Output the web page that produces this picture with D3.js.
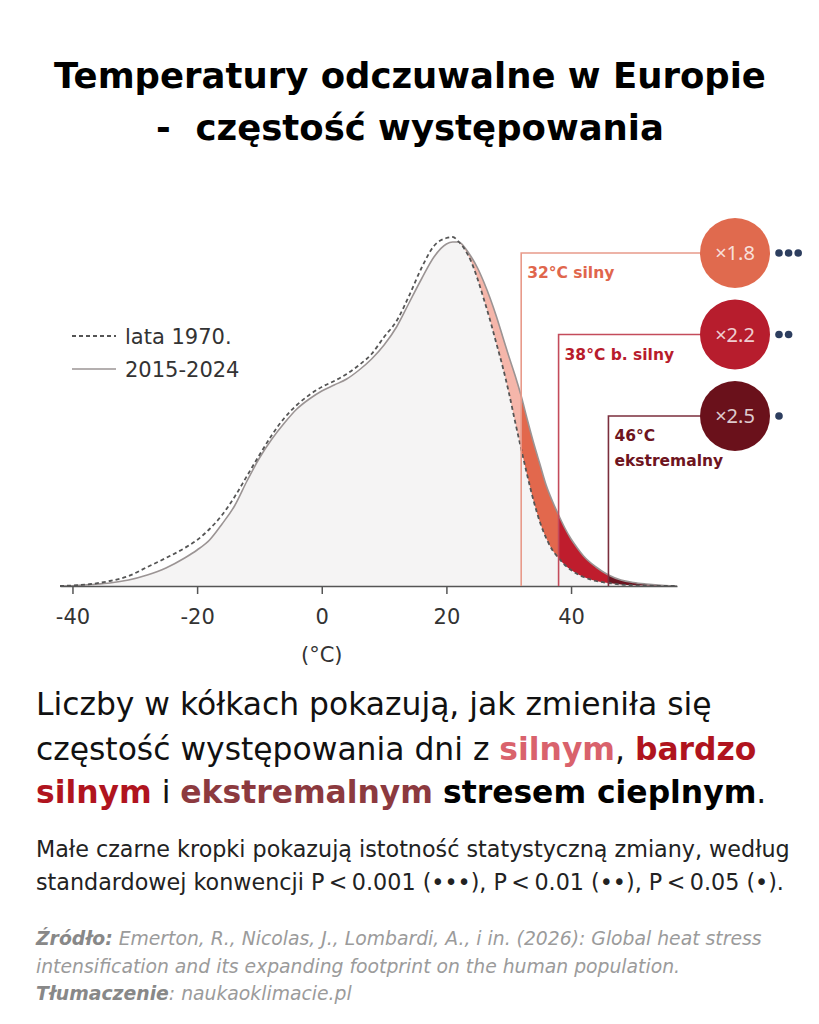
<!DOCTYPE html>
<html>
    <head>
        <meta charset="utf-8">
        <title></title>
        <script src="https://d3js.org/d3.v7.min.js"></script>
        <style>
            body { margin: 0; background: #fff; }
            text { font-family: "DejaVu Sans", sans-serif; white-space: pre; }
        </style>
    </head>

    <body>
        <div id="my_dataviz"></div>
    </body>

    <script>
        // temperature grid (°C) and relative frequency (arb. units)
        var temps = [-42, -40, -37, -34, -31, -28, -25, -22, -20, -18, -16, -14, -12, -10, -8, -6, -4, -2,
            0, 2, 4, 6, 8, 10, 12, 14, 16, 18, 20, 21, 22, 23, 24, 25, 26, 27, 28, 29, 30, 31, 32, 33, 34,
            35, 36, 37, 38, 39, 40, 41, 42, 44, 46, 48, 50, 52, 55, 57]
        var freq1970 = [0, 0.5, 2, 5, 10, 19, 28, 38, 46, 57, 71, 89, 110, 131, 151, 168, 181, 191,
            199, 205, 212, 221, 232, 249, 265, 290, 318, 340, 348, 349, 344, 336, 324, 307, 287, 266, 243, 220, 194, 165, 137, 110, 85,
            64, 48, 36, 28, 21, 16, 12, 9, 5, 3, 1.5, 0.8, 0.4, 0, 0]
        var freq2015 = [0, 0.3, 1.5, 3, 6, 11, 18, 28, 36, 46, 62, 80, 105, 128, 147, 163, 177, 187,
            195, 201, 207, 216, 227, 241, 259, 283, 307, 329, 342, 344, 344, 338, 329, 318, 304, 288, 270, 250, 230, 211, 190, 166, 143,
            122, 101, 85, 71, 58, 47, 38, 30, 19, 11, 6, 3.5, 2, 0.5, 0]

        var tickValues = [-40, -20, 0, 20, 40]
        var tickLabels = ["-40", "-20", "0", "20", "40"]
        var seriesNames = ["lata 1970.", "2015-2024"]

        var thresholds = [32, 38, 46]
        var thresholdLabels = [["32°C silny"], ["38°C b. silny"], ["46°C", "ekstremalny"]]
        var ratioLabels = ["×1.8", "×2.2", "×2.5"]
        var signifDots = [3, 2, 1]
        var bandStart = 22

        var titleLines = ["Temperatury odczuwalne w Europie", "-  częstość występowania"]
        var noteLines = ["Małe czarne kropki pokazują istotność statystyczną zmiany, według",
            "standardowej konwencji P\u2009<\u20090.001 (•••), P\u2009<\u20090.01 (••), P\u2009<\u20090.05 (•)."]

        // colours
        var bandColors = ["#f5b6aa", "#e2684d", "#bf1d2d", "#6c1420"]
        var lineColors = ["#e89a8a", "#c44b5b", "#7b2e3d"]
        var labelColors = ["#e0664c", "#b81c2c", "#6e1420"]
        var circleColors = ["#e06a4e", "#b71d2d", "#6a111b"]

        var W = 819, H = 1024

        var svg = d3.select("#my_dataviz")
        .append("svg")
        .attr("width", W)
        .attr("height", H)

        // scales
        var x = d3.scaleLinear().domain([-42, 57]).range([60, 677])
        var y = d3.scaleLinear().domain([0, 349]).range([586, 237])

        var pts = temps.map(function(t, i) { return { t: t, a: freq1970[i], b: freq2015[i] } })

        // gray area under the recent curve
        svg.append("path")
        .datum(pts)
        .attr("fill", "#f5f4f4")
        .attr("d", d3.area().curve(d3.curveMonotoneX)
            .x(function(d) { return x(d.t) })
            .y0(y(0))
            .y1(function(d) { return y(d.b) }))

        // coloured band between the two curves, split at the thresholds
        var cuts = [bandStart].concat(thresholds).concat([57])
        var defs = svg.append("defs")
        var band = d3.area().curve(d3.curveMonotoneX)
            .x(function(d) { return x(d.t) })
            .y0(function(d) { return y(d.a) })
            .y1(function(d) { return y(d.b) })

        for (var k = 0; k < cuts.length - 1; k++) {
            defs.append("clipPath").attr("id", "clip" + k)
            .append("rect")
            .attr("x", x(cuts[k]))
            .attr("width", x(cuts[k + 1]) - x(cuts[k]))
            .attr("y", 0)
            .attr("height", y(0) + 1)

            svg.append("path")
            .datum(pts)
            .attr("clip-path", "url(#clip" + k + ")")
            .attr("fill", bandColors[k])
            .attr("d", band)
        }

        // curves
        var line1970 = d3.line().curve(d3.curveMonotoneX)
            .x(function(d) { return x(d.t) })
            .y(function(d) { return y(d.a) })
        var line2015 = d3.line().curve(d3.curveMonotoneX)
            .x(function(d) { return x(d.t) })
            .y(function(d) { return y(d.b) })

        svg.append("path").datum(pts)
        .attr("fill", "none")
        .attr("stroke", "#9b9494")
        .attr("stroke-width", 1.6)
        .attr("d", line2015)

        svg.append("path").datum(pts)
        .attr("fill", "none")
        .attr("stroke", "#555")
        .attr("stroke-width", 1.8)
        .attr("stroke-dasharray", "4,3")
        .attr("d", line1970)

        // x axis
        var axis = svg.append("g")
        .attr("transform", "translate(0," + y(0) + ")")
        .call(d3.axisBottom(x)
            .tickValues(tickValues)
            .tickFormat(function(d, i) { return tickLabels[i] })
            .tickSize(8)
            .tickSizeOuter(0)
            .tickPadding(15))
        axis.select(".domain").attr("stroke", "#555").attr("stroke-width", 1.5)
        axis.selectAll(".tick line").attr("stroke", "#555").attr("stroke-width", 1.5)
        axis.selectAll(".tick text")
        .attr("fill", "#333")
        .style("font-size", "21px")
        .style("font-family", "DejaVu Sans, sans-serif")

        svg.append("text")
        .attr("x", x(0))
        .attr("y", 662)
        .attr("text-anchor", "middle")
        .attr("fill", "#333")
        .style("font-size", "21px")
        .text("(°C)")

        // legend
        var legend = svg.append("g")
        seriesNames.forEach(function(name, i) {
            var ly = 336 + i * 33
            legend.append("line")
            .attr("x1", 72).attr("x2", 116)
            .attr("y1", ly).attr("y2", ly)
            .attr("stroke", i == 0 ? "#555" : "#9b9494")
            .attr("stroke-width", i == 0 ? 1.8 : 1.6)
            .attr("stroke-dasharray", i == 0 ? "4,3" : null)
            legend.append("text")
            .attr("x", 125)
            .attr("y", ly + 8)
            .attr("fill", "#333")
            .style("font-size", "21px")
            .text(name)
        })

        // threshold callouts
        var circleX = 735, circleR = 35
        thresholds.forEach(function(t, i) {
            var cy = 253 + i * 81.5
            svg.append("path")
            .attr("fill", "none")
            .attr("stroke", lineColors[i])
            .attr("stroke-width", 1.6)
            .attr("d", "M" + x(t) + "," + y(0) + "V" + cy + "H" + circleX)

            thresholdLabels[i].forEach(function(s, j) {
                svg.append("text")
                .attr("x", x(t) + 6)
                .attr("y", cy + 25 + j * 25)
                .attr("fill", labelColors[i])
                .style("font-size", "15.5px")
                .style("font-weight", "bold")
                .text(s)
            })

            svg.append("circle")
            .attr("cx", circleX)
            .attr("cy", cy)
            .attr("r", circleR)
            .attr("fill", circleColors[i])

            svg.append("text")
            .attr("x", circleX)
            .attr("y", cy + 7)
            .attr("text-anchor", "middle")
            .attr("fill", "rgba(255,255,255,0.8)")
            .style("font-size", "20px")
            .style("font-family", "Noto Sans, sans-serif")
            .text(ratioLabels[i])

            svg.selectAll(null)
            .data(d3.range(signifDots[i]))
            .enter()
            .append("circle")
            .attr("cx", function(d) { return 779 + d * 9.6 })
            .attr("cy", cy)
            .attr("r", 3.8)
            .attr("fill", "#2d3e5f")
        })

        // font size that gives the first line of a block the wanted width
        function fitBlock(sel, target) {
            var w = sel.node().getComputedTextLength()
            return parseFloat(sel.style("font-size")) * target / w
        }

        // title
        var title = svg.append("g")
        .style("font-weight", "bold")
        .attr("fill", "#000")
        titleLines.forEach(function(s, i) {
            title.append("text")
            .attr("x", 410)
            .attr("y", 88 + i * 52)
            .attr("text-anchor", "middle")
            .style("font-size", "36px")
            .text(s)
        })
        var ts = fitBlock(title.select("text"), 712)
        title.selectAll("text").style("font-size", ts + "px")

        // main caption
        var cap = svg.append("g").attr("fill", "#111")
        var c1 = cap.append("text").attr("x", 36).attr("y", 715).style("font-size", "28px")
            .text("Liczby w kółkach pokazują, jak zmieniła się")
        var c2 = cap.append("text").attr("x", 36).attr("y", 760).style("font-size", "28px")
        c2.append("tspan").text("częstość występowania dni z ")
        c2.append("tspan").attr("fill", "#d9626c").style("font-weight", "bold").text("silnym")
        c2.append("tspan").text(", ")
        c2.append("tspan").attr("fill", "#b0141e").style("font-weight", "bold").text("bardzo")
        var c3 = cap.append("text").attr("x", 36).attr("y", 803).style("font-size", "28px")
        c3.append("tspan").attr("fill", "#b0141e").style("font-weight", "bold").text("silnym")
        c3.append("tspan").text(" i ")
        c3.append("tspan").attr("fill", "#8c3a3f").style("font-weight", "bold").text("ekstremalnym")
        c3.append("tspan").text(" ")
        c3.append("tspan").attr("fill", "#000").style("font-weight", "bold").text("stresem cieplnym")
        c3.append("tspan").text(".")
        var cs = fitBlock(c1, 676)
        cap.selectAll("text").style("font-size", cs + "px")

        // note on dots
        var note = svg.append("g").attr("fill", "#222")
        noteLines.forEach(function(s, i) {
            note.append("text")
            .attr("x", 36)
            .attr("y", 857 + i * 33)
            .style("font-size", "19px")
            .text(s)
        })
        var ns = fitBlock(note.select("text"), 754)
        note.selectAll("text").style("font-size", ns + "px")

        // source
        var src = svg.append("g").attr("fill", "#9b9b9b").style("font-style", "italic")
        var s1 = src.append("text").attr("x", 36).attr("y", 945).style("font-size", "18px")
        s1.append("tspan").style("font-weight", "bold").attr("fill", "#888").text("Źródło:")
        s1.append("tspan").text(" Emerton, R., Nicolas, J., Lombardi, A., i in. (2026): Global heat stress")
        src.append("text").attr("x", 36).attr("y", 973).style("font-size", "18px")
        .text("intensification and its expanding footprint on the human population.")
        var s3 = src.append("text").attr("x", 36).attr("y", 1000).style("font-size", "18px")
        s3.append("tspan").style("font-weight", "bold").attr("fill", "#888").text("Tłumaczenie")
        s3.append("tspan").text(": naukaoklimacie.pl")
        var ss = fitBlock(s1, 726)
        src.selectAll("text").style("font-size", ss + "px")
    </script>
</html>
